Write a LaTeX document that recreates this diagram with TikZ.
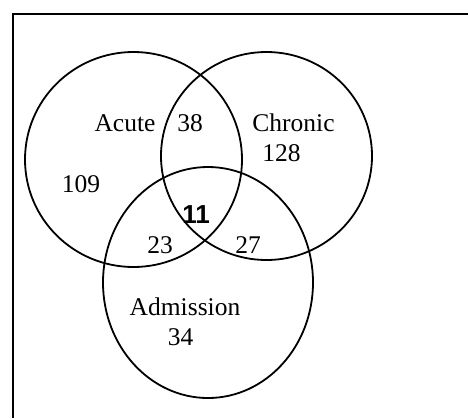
\documentclass[tikz,border=0pt]{standalone}
\usepackage{fontspec}
\setmainfont{Liberation Serif}
\newfontfamily\labelsans{Liberation Sans}
\usetikzlibrary{shapes.geometric}
\begin{document}
\begin{tikzpicture}[x=1pt,y=-1pt,
  setshape/.style={draw=black,line width=1.8pt,ellipse,inner sep=0pt,fill=none},
  lbl/.style={anchor=base,inner sep=0pt,font=\fontsize{25.5}{30}\selectfont},
  boldlbl/.style={anchor=base,inner sep=0pt,font=\labelsans\bfseries\fontsize{26}{30}\selectfont}]
\useasboundingbox (0,0) rectangle (468,418);
\fill[white] (0,0) rectangle (468,418);
\draw[line width=2.6pt] (13,418) -- (13,14) -- (468,14);
\node[setshape,minimum width=217pt,minimum height=215pt] (acute) at (133.5,159.5) {};
\node[setshape,minimum width=211pt,minimum height=208pt] (chronic) at (266.5,156) {};
\node[setshape,minimum width=210pt,minimum height=231pt] (admission) at (208,282.5) {};
\node[lbl] (tacute) at (125,131.5) {Acute};
\node[lbl] (t38) at (190,131.5) {38};
\node[lbl] (tchronic) at (293.5,131.5) {Chronic};
\node[lbl] (t128) at (281.5,161.5) {128};
\node[lbl] (t109) at (81,192.5) {109};
\node[boldlbl] (t11) at (196,223.3) {11};
\node[lbl] (t23) at (160,253.3) {23};
\node[lbl] (t27) at (248,253.3) {27};
\node[lbl] (tadm) at (185,315.5) {Admission};
\node[lbl] (t34) at (180.5,345) {34};
\end{tikzpicture}
\end{document}
